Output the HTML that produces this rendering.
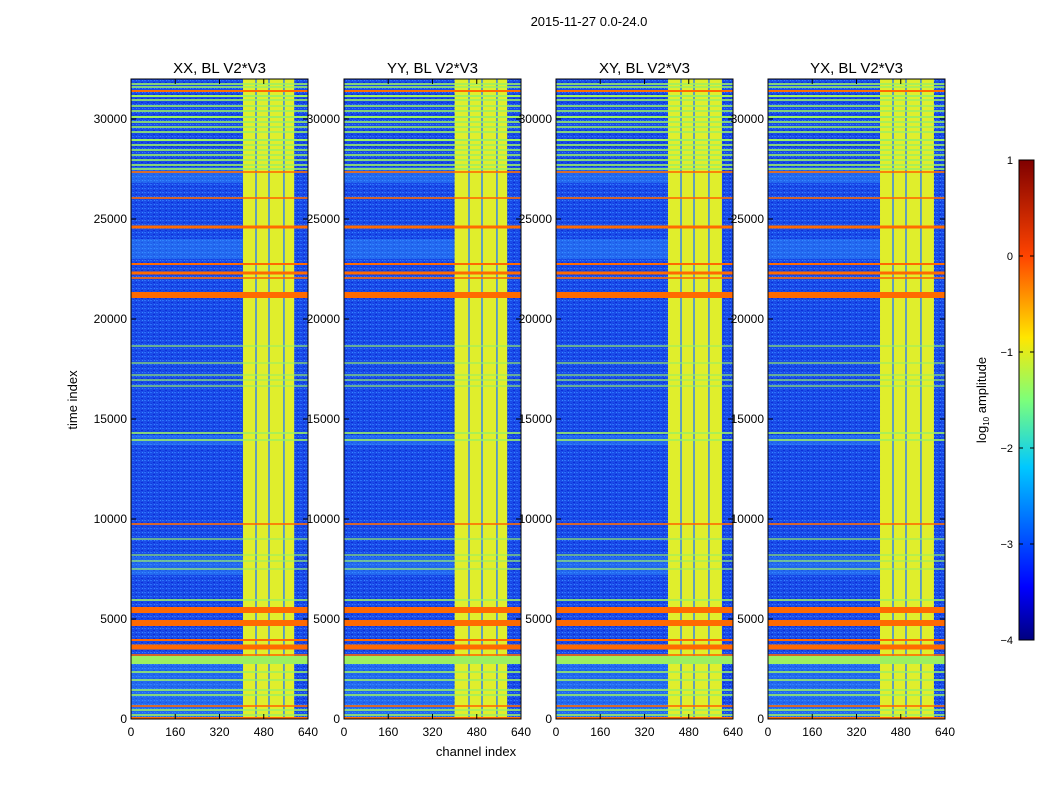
<!DOCTYPE html>
<html><head><meta charset="utf-8"><style>
html,body{margin:0;padding:0;background:#fff;}
svg text{font-family:"Liberation Sans",sans-serif;fill:#000;}
</style></head><body>
<svg id="fig" width="1050" height="800" viewBox="0 0 1050 800" xmlns="http://www.w3.org/2000/svg">
<defs>
<linearGradient id="jet" x1="0" y1="1" x2="0" y2="0">
<stop offset="0" stop-color="#00007f"/><stop offset="0.11" stop-color="#0000ff"/>
<stop offset="0.36" stop-color="#00c8ff"/><stop offset="0.5" stop-color="#7dff7a"/>
<stop offset="0.63" stop-color="#ffe600"/><stop offset="0.8" stop-color="#ff4400"/>
<stop offset="1" stop-color="#7f0000"/>
</linearGradient>
<pattern id="noise" width="6" height="4" patternUnits="userSpaceOnUse">
<rect width="6" height="4" fill="#1a4ce8"/>
<rect x="0" y="0" width="2" height="1" fill="#2a70fa"/>
<rect x="3" y="2" width="2" height="1" fill="#0c2ed8"/>
<rect x="4" y="0" width="1" height="1" fill="#3585ff"/>
<rect x="1" y="3" width="1" height="1" fill="#1238e0"/>
</pattern>
</defs>
<text x="589" y="26" font-size="13" text-anchor="middle">2015-11-27 0.0-24.0</text>
<g id="panels"></g>
<text x="476" y="756" font-size="13" text-anchor="middle">channel index</text>
<text transform="translate(77,400) rotate(-90)" font-size="13" text-anchor="middle">time index</text>
<g>
<rect x="1019" y="160" width="15" height="480" fill="url(#jet)" stroke="#000" stroke-width="1"/>
<g id="cbticks"></g>
<text transform="translate(986,400) rotate(-90)" font-size="13" text-anchor="middle">log<tspan font-size="8" dy="3">10</tspan><tspan dy="-3"> amplitude</tspan></text>
</g>
</svg>
<script>
// data
const panelTitles = ["XX, BL V2*V3","YY, BL V2*V3","XY, BL V2*V3","YX, BL V2*V3"];
const bandStart = [405, 400, 405, 405];
const bandEnd = [590, 590, 600, 600];
const bandGaps = [452, 499, 553];
const orangeRows = [31400, 27350, 26050, 24600, 22750, 22300, 22050, 21200, 9750, 5450, 4800, 3950, 3600, 3200, 650, 50];
const orangeWidths = [100, 80, 80, 150, 100, 150, 80, 300, 80, 300, 300, 100, 250, 80, 80, 100];
const greenRows = [31750, 31600, 31150, 30950, 30650, 30400, 30100, 29850, 29600, 29350, 28950, 28700, 28450, 28200, 27950, 27700, 27500, 18650, 17800, 17200, 16950, 16650, 14300, 13950, 9000, 8200, 7900, 7500, 5950, 2950, 2350, 1950, 1450, 1200, 450, 200];
const greenWidths = [80, 80, 100, 80, 80, 80, 100, 80, 80, 80, 100, 80, 80, 80, 80, 80, 80, 60, 60, 60, 60, 60, 80, 80, 60, 60, 60, 60, 80, 400, 80, 80, 80, 80, 80, 80];
const lightBlocks = [[0, 3000], [13700, 14200], [7200, 8100], [23000, 24000], [26800, 27600]];
const xTicks = [0, 160, 320, 480, 640];
const yTicks = [0, 5000, 10000, 15000, 20000, 25000, 30000];
const cbTicks = [1, 0, -1, -2, -3, -4];

const NS = "http://www.w3.org/2000/svg";
const panelX = [131, 344, 556, 768];
const PW = 177, Y0 = 719, Y1 = 79, TMAX = 32000;
function el(tag, attrs, parent){const e=document.createElementNS(NS,tag);for(const k in attrs)e.setAttribute(k,attrs[k]);parent.appendChild(e);return e;}
const root = document.getElementById("panels");
panelTitles.forEach((title, p) => {
  const x0 = panelX[p];
  const xs = c => x0 + c / 640 * PW;
  const ys = t => Y0 - t / TMAX * (Y0 - Y1);
  const g = el("g", {}, root);
  
  
  el("rect", {x:x0, y:Y1, width:PW, height:Y0-Y1, fill:"url(#noise)"}, g);
  lightBlocks.forEach(b => {
    const r = el("rect", {x:x0, y:ys(b[1]), width:xs(bandStart[p])-x0, height:ys(b[0])-ys(b[1]), fill:"#39a2ff", opacity:0.35}, g);
    
    
  });
  const band = el("rect", {x:xs(bandStart[p]), y:Y1, width:xs(bandEnd[p])-xs(bandStart[p]), height:Y0-Y1, fill:"#e0ee2c"}, g);
  
  
  bandGaps.forEach(c => {
    const r = el("rect", {x:xs(c-2.5), y:Y1, width:xs(c+2.5)-xs(c-2.5), height:Y0-Y1, fill:"#2a7cf8"}, g);
    
    
  });
  greenRows.forEach((t, i) => {
    const w = greenWidths[i];
    const r = el("rect", {x:x0, y:ys(t+w/2), width:PW, height:Math.max(1, ys(t-w/2)-ys(t+w/2)), fill:"#9cf060"}, g);
    
    
  });
  orangeRows.forEach((t, i) => {
    const w = orangeWidths[i];
    const r = el("rect", {x:x0, y:ys(t+w/2), width:PW, height:Math.max(1.5, ys(t-w/2)-ys(t+w/2)), fill:"#ff6a00"}, g);
    
    
  });
  el("rect", {x:x0, y:Y1, width:PW, height:Y0-Y1, fill:"none", stroke:"#000", "stroke-width":1}, g);
  const tt = el("text", {x:x0+PW/2, y:73, "font-size":15, "text-anchor":"middle"}, g);
  tt.textContent = title;
  
  
  xTicks.forEach(c => {
    el("line", {x1:xs(c), x2:xs(c), y1:Y0, y2:Y0-5, stroke:"#000"}, g);
    el("line", {x1:xs(c), x2:xs(c), y1:Y1, y2:Y1+5, stroke:"#000"}, g);
    const l = el("text", {x:xs(c), y:Y0+17, "font-size":12, "text-anchor":"middle"}, g);
    l.textContent = c;
    
    
  });
  yTicks.forEach(t => {
    el("line", {x1:x0, x2:x0+5, y1:ys(t), y2:ys(t), stroke:"#000"}, g);
    el("line", {x1:x0+PW, x2:x0+PW-5, y1:ys(t), y2:ys(t), stroke:"#000"}, g);
    const l = el("text", {x:x0-4, y:ys(t)+4, "font-size":12, "text-anchor":"end"}, g);
    l.textContent = t;
    
    
  });
});
const cb = document.getElementById("cbticks");
cbTicks.forEach(v => {
  const y = 160 + (1 - v) / 5 * 480;
  el("line", {x1:1019, x2:1023, y1:y, y2:y, stroke:"#000"}, cb);
  el("line", {x1:1030, x2:1034, y1:y, y2:y, stroke:"#000"}, cb);
  const l = el("text", {x:1013, y:y+4, "font-size":11, "text-anchor":"end"}, cb);
  l.textContent = v < 0 ? "\u2212" + (-v) : v;
  
  
});
</script>
</body></html>
